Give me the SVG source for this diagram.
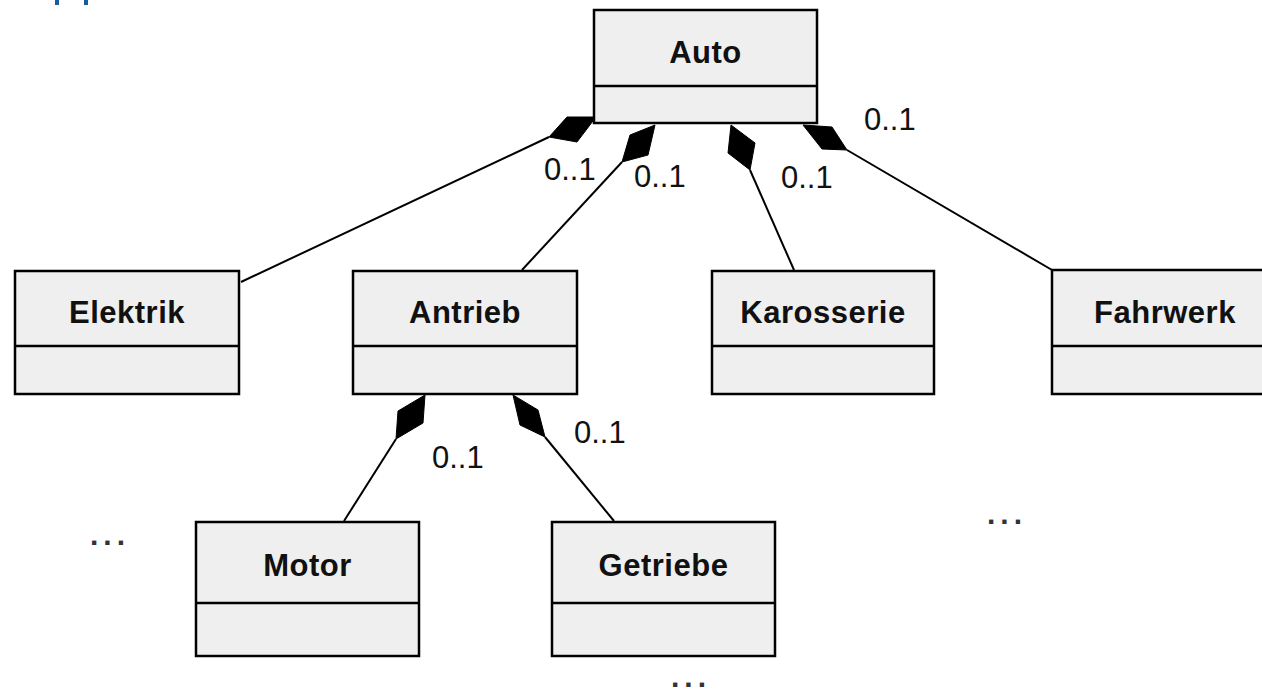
<svg xmlns="http://www.w3.org/2000/svg" width="1262" height="689" viewBox="0 0 1262 689">
<style>
.box{fill:#efefef;stroke:#000;stroke-width:2.5}
.div{stroke:#000;stroke-width:2.5}
.name{font-family:"Liberation Sans",Arial,sans-serif;font-weight:bold;font-size:31px;fill:#111;text-anchor:middle;letter-spacing:0.5px}
.mult{font-family:"Liberation Sans",Arial,sans-serif;font-size:31px;fill:#111}
.dots{font-family:"Liberation Sans",Arial,sans-serif;font-weight:bold;font-size:30px;fill:#333;letter-spacing:5px}
.line{stroke:#000;stroke-width:2;fill:none}
.dia{fill:#000;stroke:#000;stroke-width:1}
</style>
<rect x="55" y="0" width="4" height="5" fill="#175d9c"/>
<rect x="84" y="0" width="4" height="5" fill="#175d9c"/>
<g id="connectors">
<line class="line" x1="241" y1="282" x2="549" y2="137"/>
<polygon class="dia" points="596,117 567,117 549,137 577,142"/>
<line class="line" x1="522" y1="270" x2="622" y2="162"/>
<polygon class="dia" points="655,125 630,135 622,162 648,155"/>
<line class="line" x1="794" y1="270" x2="750" y2="170"/>
<polygon class="dia" points="731,125 755,143 750,170 728,153"/>
<line class="line" x1="1052" y1="270" x2="847" y2="150"/>
<polygon class="dia" points="803,125 832,127 847,150 822,149"/>
<line class="line" x1="344" y1="521" x2="396" y2="439"/>
<polygon class="dia" points="425,395 423,423 396,439 398,411"/>
<line class="line" x1="614" y1="521" x2="545" y2="437"/>
<polygon class="dia" points="513,395 538,410 545,437 520,425"/>
</g>
<g id="labels">
<text class="mult" x="544" y="180">0..1</text>
<text class="mult" x="634" y="187">0..1</text>
<text class="mult" x="781" y="188">0..1</text>
<text class="mult" x="864" y="130">0..1</text>
<text class="mult" x="432" y="468">0..1</text>
<text class="mult" x="574" y="443">0..1</text>
<text class="dots" x="90" y="545">...</text>
<text class="dots" x="987" y="524">...</text>
<text class="dots" x="671" y="687">...</text>
</g>
<g id="auto">
<rect class="box" x="594" y="10" width="223" height="113"/>
<line class="div" x1="594" y1="86" x2="817" y2="86"/>
<text class="name" x="705.5" y="63">Auto</text>
</g>
<g id="elektrik">
<rect class="box" x="15" y="271" width="224" height="123"/>
<line class="div" x1="15" y1="346" x2="239" y2="346"/>
<text class="name" x="127" y="323">Elektrik</text>
</g>
<g id="antrieb">
<rect class="box" x="353" y="271" width="224" height="123"/>
<line class="div" x1="353" y1="346" x2="577" y2="346"/>
<text class="name" x="465" y="323">Antrieb</text>
</g>
<g id="karosserie">
<rect class="box" x="712" y="271" width="222" height="123"/>
<line class="div" x1="712" y1="346" x2="934" y2="346"/>
<text class="name" x="823" y="323">Karosserie</text>
</g>
<g id="fahrwerk">
<rect class="box" x="1052" y="270" width="226" height="124"/>
<line class="div" x1="1052" y1="346" x2="1278" y2="346"/>
<text class="name" x="1165" y="323">Fahrwerk</text>
</g>
<g id="motor">
<rect class="box" x="196" y="522" width="223" height="134"/>
<line class="div" x1="196" y1="603" x2="419" y2="603"/>
<text class="name" x="307.5" y="576">Motor</text>
</g>
<g id="getriebe">
<rect class="box" x="552" y="522" width="223" height="134"/>
<line class="div" x1="552" y1="603" x2="775" y2="603"/>
<text class="name" x="663.5" y="576">Getriebe</text>
</g>
</svg>
